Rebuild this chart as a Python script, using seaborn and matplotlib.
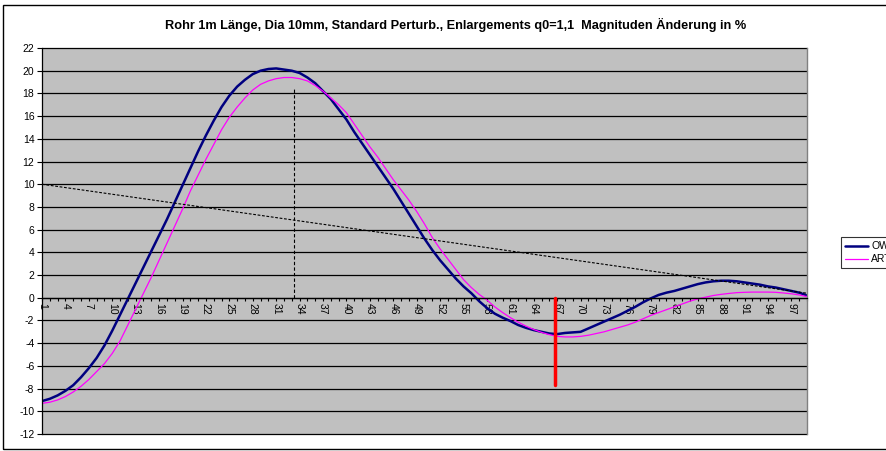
import numpy as np
import pandas as pd
import matplotlib
matplotlib.use("Agg")
import matplotlib.pyplot as plt
from matplotlib.lines import Line2D
from matplotlib.patches import Rectangle
import seaborn as sns

sns.set_style("white")
plt.rcParams['font.family'] = ['Liberation Sans', 'DejaVu Sans']
plt.rcParams['text.color'] = 'black'
plt.rcParams['xtick.color'] = 'black'
plt.rcParams['ytick.color'] = 'black'
plt.rcParams['axes.labelcolor'] = 'black'

title = "Rohr 1m Länge, Dia 10mm, Standard Perturb., Enlargements q0=1,1  Magnituden Änderung in %"
categories = list(range(1, 100))
ow = [-9.1, -8.9, -8.6, -8.2, -7.7, -7.0, -6.2, -5.3, -4.2, -2.9,
      -1.5, -0.1, 1.3, 2.7, 4.1, 5.5, 6.9, 8.4, 9.9, 11.4,
      12.9, 14.3, 15.6, 16.8, 17.8, 18.6, 19.2, 19.7, 20.0, 20.15,
      20.2, 20.1, 20.0, 19.8, 19.4, 18.9, 18.2, 17.5, 16.6, 15.7,
      14.6, 13.6, 12.6, 11.6, 10.6, 9.6, 8.5, 7.4, 6.3, 5.2,
      4.2, 3.3, 2.5, 1.7, 1.0, 0.4, -0.3, -0.9, -1.4, -1.75,
      -2.05, -2.4, -2.65, -2.85, -3.0, -3.15, -3.2, -3.1, -3.05, -3.0,
      -2.7, -2.4, -2.1, -1.8, -1.5, -1.15, -0.8, -0.4, -0.05, 0.25,
      0.45, 0.6, 0.8, 1.0, 1.2, 1.35, 1.45, 1.5, 1.5, 1.45,
      1.35, 1.25, 1.15, 1.0, 0.9, 0.75, 0.6, 0.45, 0.2]
art = [-9.3, -9.2, -9.0, -8.7, -8.3, -7.8, -7.2, -6.5, -5.8, -4.9,
       -3.8, -2.4, -1.0, 0.4, 1.8, 3.3, 4.8, 6.3, 7.8, 9.4,
       10.8, 12.2, 13.5, 14.8, 15.9, 16.8, 17.6, 18.3, 18.8, 19.1,
       19.3, 19.4, 19.4, 19.3, 19.1, 18.7, 18.2, 17.6, 17.0, 16.3,
       15.3, 14.3, 13.3, 12.4, 11.4, 10.4, 9.5, 8.6, 7.6, 6.5,
       5.3, 4.3, 3.4, 2.5, 1.6, 0.9, 0.3, -0.2, -0.8, -1.3,
       -1.75, -2.15, -2.5, -2.8, -3.05, -3.25, -3.4, -3.45, -3.45, -3.4,
       -3.3, -3.15, -3.0, -2.8, -2.6, -2.4, -2.15, -1.85, -1.55, -1.3,
       -1.05, -0.8, -0.55, -0.3, -0.1, 0.05, 0.2, 0.3, 0.38, 0.45,
       0.48, 0.5, 0.5, 0.5, 0.48, 0.42, 0.35, 0.25, 0.1]
series_names = ["OW", "ART"]
y_ticks = list(range(-12, 23, 2))
x_label_every = 3

trend_x = [1, 99]
trend_y = [10, 0.4]
vline_dash = (33.3, 0, 18.4)
vline_red = (66.7, 0, -7.7)

df = pd.DataFrame({"cat": categories * 2,
                   "val": ow + art,
                   "series": [series_names[0]] * len(ow) + [series_names[1]] * len(art)})

W, H = 887, 451
fig = plt.figure(figsize=(W / 100, H / 100), dpi=100)
L, R, T, B = 42, 807, 48, 434
ax = fig.add_axes([L / W, 1 - B / H, (R - L) / W, (B - T) / H])
ax.set_facecolor('#C0C0C0')

palette = {"OW": "#000080", "ART": "#FF00FF"}
sns.lineplot(data=df, x="cat", y="val", hue="series", palette=palette,
             size="series", sizes={"OW": 1.8, "ART": 0.9}, ax=ax, legend=False)

ax.set_xlim(1, 99)
ax.set_ylim(-12, 22)

# spines first (set_position resets ticks)
ax.spines['bottom'].set_position(('data', 0))
ax.spines['bottom'].set_color('black')
ax.spines['bottom'].set_linewidth(0.9)
ax.spines['left'].set_color('black')
ax.spines['left'].set_linewidth(0.9)
ax.spines['top'].set_visible(False)
ax.spines['right'].set_color('#808080')
ax.spines['right'].set_linewidth(1)
ax.set_xlabel('')
ax.set_ylabel('')

# gridlines
for yv in y_ticks:
    ax.axhline(yv, color='black', lw=0.9, zorder=0.5, clip_on=False)

# trend and markers
ax.plot(trend_x, trend_y, color='black', lw=0.8, ls=(0, (2.5, 1.5)), zorder=3)
ax.plot([vline_dash[0]] * 2, vline_dash[1:], color='black', lw=0.8, ls=(0, (3, 2)), zorder=3)
ax.plot([vline_red[0]] * 2, vline_red[1:], color='#FF0000', lw=2.5, zorder=4)

ax.set_yticks(y_ticks)
ax.set_yticklabels([str(v) for v in y_ticks], fontsize=7.5)
ax.set_xticks(categories)
ax.set_xticklabels([str(c) if (c - 1) % x_label_every == 0 else '' for c in categories],
                   fontsize=7.5, rotation=-90, ha='center', va='top')
ax.tick_params(axis='y', direction='out', length=3.5, width=0.8, color='black', pad=2, left=True)
ax.tick_params(axis='x', direction='out', length=2.5, width=0.8, color='black', pad=1.5, bottom=True)

fig.text(456 / W, 1 - 25 / H, title, ha='center', va='center', fontsize=9.2,
         fontweight='bold', color='black')

handles = [Line2D([], [], color=palette["OW"], lw=1.8),
           Line2D([], [], color=palette["ART"], lw=0.9)]
leg = fig.legend(handles, series_names, loc='upper left',
                 bbox_to_anchor=(841 / W, 1 - 237 / H), fontsize=7.5, frameon=True,
                 fancybox=False, edgecolor='black', handlelength=2.2, handletextpad=0.3,
                 borderpad=0.4, labelspacing=0.3, borderaxespad=0)
leg.get_frame().set_linewidth(0.8)

fig.patches.append(Rectangle((3 / W, 2 / H), 1.1, (449 - 5) / H, transform=fig.transFigure,
                             fill=False, edgecolor='black', lw=1))

fig.savefig('out.png', dpi=100)
